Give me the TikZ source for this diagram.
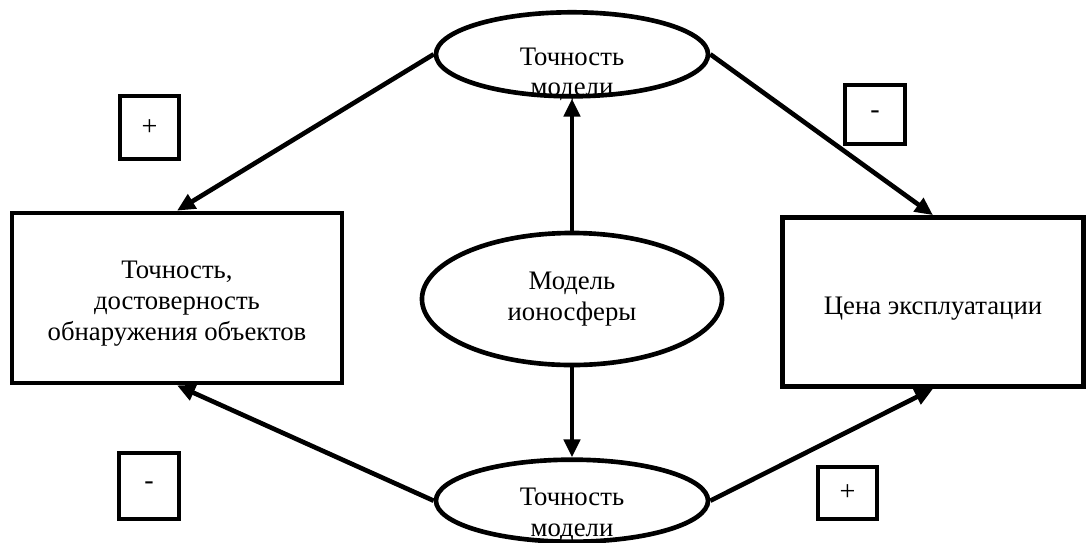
\documentclass[tikz,border=0pt]{standalone}
\usepackage{fontspec}
\setmainfont{Liberation Serif}
\usetikzlibrary{arrows.meta, positioning, shapes.geometric}

\begin{document}
\begin{tikzpicture}[
  x=0.025cm, y=-0.025cm,
  >={Triangle[length=0.45cm, width=0.4cm]},
  txt/.style={font=\fontsize{19}{22}\selectfont, align=center},
  oval/.style={draw, ellipse, line width=3.3pt, inner sep=0pt},
  block/.style={draw, rectangle, line width=3.3pt, txt},
  sign/.style={draw, rectangle, line width=3.3pt, minimum width=1.5cm,
               font=\fontsize{20}{22}\selectfont},
  arr/.style={draw, line width=3.3pt, ->}
]
  \useasboundingbox (0,0) rectangle (1086,542);
  % ovals in the middle column
  \node[oval, txt, minimum width=7.5cm, minimum height=3.3cm] (midE) at (572,299)
    {Модель\\ионосферы};
  \node[oval, minimum width=6.8cm, minimum height=2.1cm, above=3.3cm of midE,
        label={[txt, yshift=-0.5cm]center:Точность\\модели}] (topE) {};
  \node[oval, minimum width=6.8cm, minimum height=2.05cm, below=2.25cm of midE,
        label={[txt, yshift=-0.35cm]center:Точность\\модели}] (botE) {};
  % boxes at the sides
  \node[block, minimum width=8.25cm, minimum height=4.25cm, text height=2.25cm]
    (leftR) at (177,298) {Точность,\\достоверность\\обнаружения объектов};
  \node[block, minimum width=7.525cm, minimum height=4.225cm, text height=0.75cm]
    (rightR) at (933,302) {Цена эксплуатации};
  % signs
  \node[sign, minimum width=1.475cm, minimum height=1.575cm] (sgnTL) at (149.5,127.5) {+};
  \node[sign, minimum height=1.475cm] (sgnTR) at (875,114.5) {-};
  \node[sign, minimum height=1.65cm] (sgnBL) at (149,486) {-};
  \node[sign, minimum width=1.475cm, minimum height=1.3cm] (sgnBR) at (847.5,493) {+};
  % connectors
  \draw[arr] (topE.west) -- (leftR.north);
  \draw[arr] (topE.east) -- (rightR.north);
  \draw[arr] (midE) -- (topE);
  \draw[arr] (midE) -- (botE);
  \draw[arr] (botE.west) -- (leftR.south);
  \draw[arr] (botE.east) -- (rightR.south);
\end{tikzpicture}
\end{document}
